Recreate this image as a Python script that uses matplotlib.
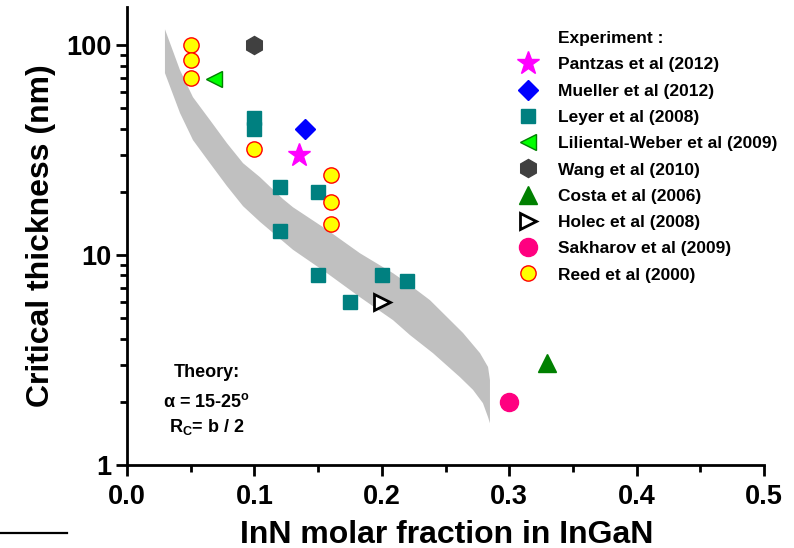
import numpy as np
import matplotlib.pyplot as plt
from matplotlib.lines import Line2D

plt.rcParams['font.family'] = ['Liberation Sans', 'DejaVu Sans']
plt.rcParams['font.weight'] = 'bold'
plt.rcParams['mathtext.fontset'] = 'custom'
plt.rcParams['mathtext.rm'] = 'Liberation Sans:bold'
plt.rcParams['mathtext.it'] = 'Liberation Sans:bold'
plt.rcParams['mathtext.bf'] = 'Liberation Sans:bold'

# === THEORY BAND (alpha = 15-25 deg, Rc = b/2) ===
band_upper_x = [0.0298, 0.0416, 0.0518, 0.0651, 0.0785, 0.0911, 0.1044, 0.1224,
                0.1303, 0.157, 0.1829, 0.2088, 0.2221, 0.2378, 0.2637, 0.2771,
                0.2834, 0.2849, 0.2849]
band_upper_y = [119, 76, 56.5, 44, 34.1, 27.4, 23.5, 18.5,
                16.9, 13.2, 10.2, 8.2, 7.2, 6.1, 4.26, 3.41,
                2.93, 2.54, 1.58]
band_lower_x = [0.0298, 0.0416, 0.0518, 0.0651, 0.0785, 0.0911, 0.1044,
                0.1303, 0.157, 0.1829, 0.2088, 0.2221, 0.2402, 0.2614, 0.2716,
                0.2794, 0.2834, 0.2849]
band_lower_y = [73.6, 47.5, 35.3, 27.4, 21.3, 17.1, 14.4,
                10.6, 8.2, 6.3, 4.9, 4.16, 3.41, 2.62, 2.28,
                1.97, 1.69, 1.58]

# === EXPERIMENTS ===
pantzas_x, pantzas_y = [0.135], [30]
mueller_x, mueller_y = [0.14], [40]
leyer_x = [0.1, 0.1, 0.12, 0.12, 0.15, 0.15, 0.175, 0.2, 0.22]
leyer_y = [45, 40, 21, 13, 20, 8, 6, 8, 7.5]
liliental_x, liliental_y = [0.068], [69]
wang_x, wang_y = [0.1], [100]
costa_x, costa_y = [0.33], [3.05]
holec_x, holec_y = [0.2], [6]
sakharov_x, sakharov_y = [0.3], [2]
reed_x = [0.05, 0.05, 0.05, 0.1, 0.16, 0.16, 0.16]
reed_y = [100, 85, 70, 32, 24, 18, 14]

fig = plt.figure(figsize=(7.94, 5.48), dpi=100)
ax = fig.add_axes([127 / 794, 83 / 548, 637 / 794, 458 / 548])

band_x = band_upper_x + band_lower_x[::-1]
band_y = band_upper_y + band_lower_y[::-1]
ax.fill(band_x, band_y, color='#c0c0c0', lw=0, zorder=1)

kw = dict(linestyle='none', zorder=3)
ax.plot([], [], linestyle='none', label='Experiment :')
ax.plot(pantzas_x, pantzas_y, marker='*', ms=17, color='#ff00ff', mec='#ff00ff',
        label='Pantzas et al (2012)', **kw)
ax.plot(mueller_x, mueller_y, marker='D', ms=10, color='#0000ff', mec='#0000ff',
        label='Mueller et al (2012)', **kw)
ax.plot(leyer_x, leyer_y, marker='s', ms=10.5, color='#008080', mec='#008080',
        label='Leyer et al (2008)', **kw)
ax.plot(liliental_x, liliental_y, marker='<', ms=12, color='#00ff00', mec='#008000',
        mew=1, label='Liliental-Weber et al (2009)', **kw)
ax.plot(wang_x, wang_y, marker='h', ms=13, color='#404040', mec='#404040',
        label='Wang et al (2010)', **kw)
ax.plot(costa_x, costa_y, marker='^', ms=13, color='#008000', mec='#008000',
        label='Costa et al (2006)', **kw)
ax.plot(holec_x, holec_y, marker='>', ms=12, color='white', mec='black', mew=2,
        label='Holec et al (2008)', **kw)
ax.plot(sakharov_x, sakharov_y, marker='o', ms=13, color='#ff0080', mec='#ff0080',
        label='Sakharov et al (2009)', **kw)
ax.plot(reed_x, reed_y, marker='o', ms=11, color='#ffff00', mec='#ff0000', mew=1,
        label='Reed et al (2000)', **kw)

# === AXES ===
ax.set_yscale('log')
ax.set_xlim(0, 0.5)
ax.set_ylim(1, 152)
ax.set_xticks(np.arange(0, 0.51, 0.1))
ax.set_xticks(np.arange(0.05, 0.5, 0.1), minor=True)
ax.xaxis.set_major_formatter(plt.FormatStrFormatter('%.1f'))
ax.set_yticks([1, 10, 100])
ax.set_yticklabels(['1', '10', '100'])
for s in ['top', 'right']:
    ax.spines[s].set_visible(False)
for s in ['left', 'bottom']:
    ax.spines[s].set_linewidth(2)
ax.tick_params(which='major', direction='out', length=8, width=2, labelsize=19.5)
ax.tick_params(which='minor', direction='out', length=5, width=2)
ax.tick_params(axis='x', which='major', pad=6)
ax.tick_params(axis='y', which='major', pad=3)
ax.tick_params(axis='y', which='minor', labelleft=False)

ax.set_xlabel('InN molar fraction in InGaN', fontsize=23, fontweight='bold')
ax.set_ylabel('Critical thickness (nm)', fontsize=23, fontweight='bold')
ax.xaxis.set_label_coords(0.502, -0.119)
ax.yaxis.set_label_coords(-0.112, 0.5)

leg = ax.legend(loc='upper left', bbox_to_anchor=(0.602, 0.9475), frameon=False,
                fontsize=12.5, numpoints=1, handlelength=2.0, handletextpad=0.75,
                labelspacing=0.64, borderpad=0, borderaxespad=0)
for t in leg.get_texts():
    t.set_fontweight('bold')

ax.text(0.1256, 0.1928, 'Theory:', transform=ax.transAxes, ha='center',
        va='baseline', fontsize=13, fontweight='bold')
ax.text(0.1256, 0.1273, 'α = 15-25$^{o}$', transform=ax.transAxes, ha='center',
        va='baseline', fontsize=13, fontweight='bold')
ax.text(0.1256, 0.0727, 'R$_{C}$= b / 2', transform=ax.transAxes, ha='center',
        va='baseline', fontsize=13, fontweight='bold')

fig.add_artist(Line2D([0, 67 / 794], [15 / 548, 15 / 548], color='black', lw=1.6))

fig.savefig('out.png', dpi=100)
